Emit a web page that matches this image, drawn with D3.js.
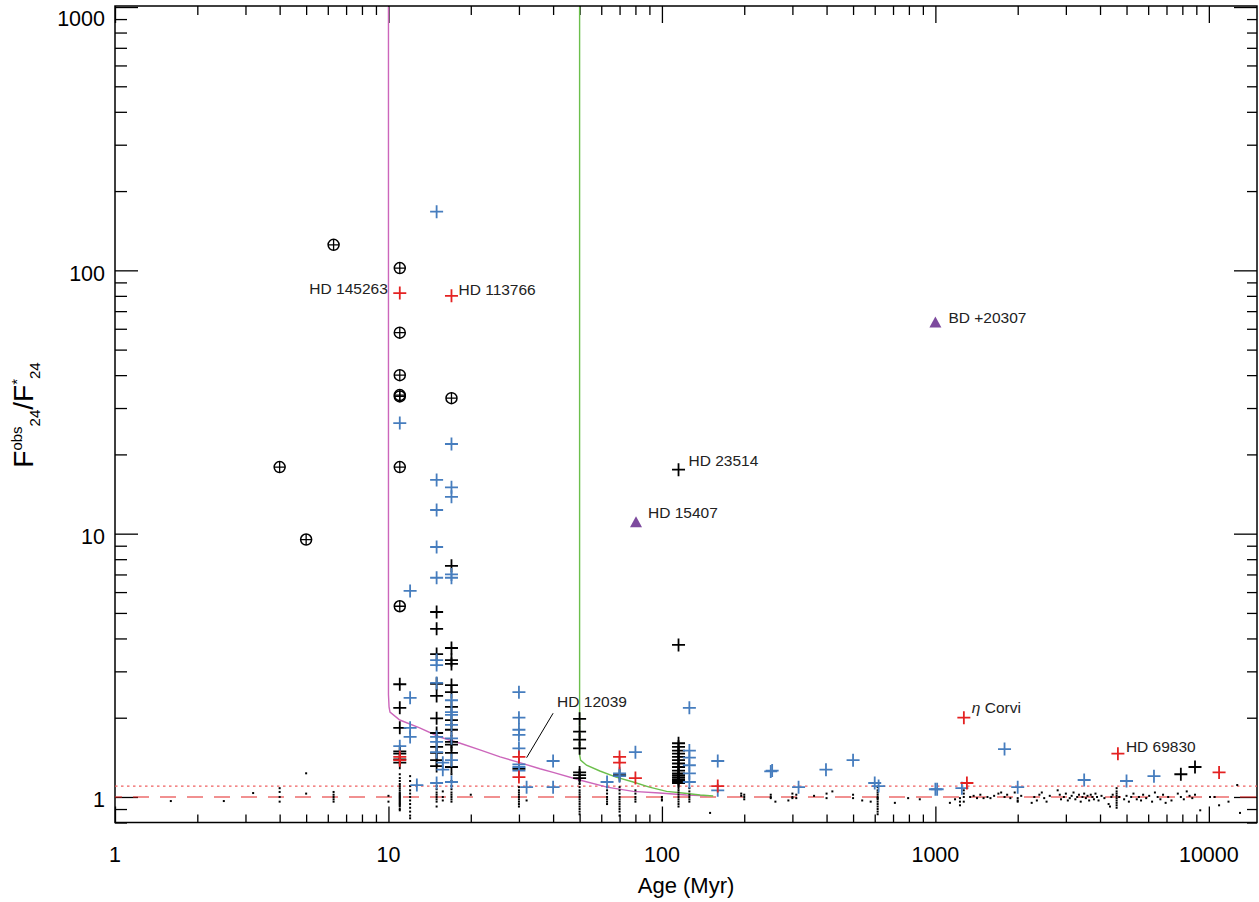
<!DOCTYPE html>
<html>
<head>
<meta charset="utf-8">
<script src="https://cdn.jsdelivr.net/npm/d3@7"></script>
<style>
  body { margin: 0; background: #fff; }
  text { font-family: "Liberation Sans", Arial, Helvetica, sans-serif; }
</style>
</head>
<body>
<script>
// ---- data: [age (Myr), F24obs/F24*] ----
var ringStars = [[6.3,125],[11,102],[11,58],[11,40],[11,33.2],[11,33.6],[11,17.9],[11,5.3],[17,32.7],[4.0,17.9],[5.0,9.5]];

var blueStars = [
  [15,167],[11,26.3],[15,16.0],[15,12.3],[15,8.9],[15,6.8],[17,21.9],[17,15.0],[17,13.8],[17,7.0],[17,6.8],
  [12,6.06],[12,2.38],[12,1.83],[12,1.69],[12.7,1.11],[11,1.56],
  [15,3.31],[15,3.17],[15,2.71],[15,1.69],[15,1.62],[15,1.48],[15,1.13],[15.8,1.35],[15.8,1.27],
  [17,2.33],[17,2.1],[17,2.05],[17,1.88],[17,1.67],[17,1.38],[17,1.14],
  [30,2.5],[30,2.0],[30,1.8],[30,1.72],[30,1.53],[30,1.33],[30,1.3],[30,1.26],[32,1.09],
  [40,1.37],[40,1.09],[63,1.14],[70,1.23],[70,1.2],[80,1.48],
  [126,2.18],[126,1.5],[126,1.41],[126,1.32],[126,1.23],[126,1.14],
  [160,1.37],[160,1.06],[250,1.25],[253,1.26],[316,1.09],[398,1.27],[500,1.38],[600,1.13],[620,1.1],
  [1000,1.07],[1015,1.07],[1250,1.08],[1790,1.52],[2000,1.09],[3500,1.16],[5000,1.15],[6300,1.2]
];

var blackStars = [
  [115,17.5],[115,3.78],
  [11,2.68],[11,2.18],[11,1.83],[11,1.49],[11,1.46],[11,1.39],[11,1.35],
  [15,5.04],[15,4.35],[15,3.49],[15,2.69],[15,2.42],[15,1.99],[15,1.75],[15,1.55],[15,1.47],[15,1.38],[15,1.31],
  [17,7.55],[17,3.68],[17,3.31],[17,3.2],[17,2.66],[17,2.5],[17,2.2],[17,1.96],[17,1.8],[17,1.62],[17,1.58],[17,1.47],[17,1.3],
  [30,1.28],
  [50,1.98],[50,1.77],[50,1.65],[50,1.53],[50,1.24],[50,1.21],[50,1.18],
  [70,1.21],
  [115,1.6],[115,1.55],[115,1.5],[115,1.46],[115,1.42],[115,1.38],[115,1.34],[115,1.3],[115,1.26],
  [115,1.23],[115,1.21],[115,1.19],[115,1.17],[115,1.15],[115,1.13],
  [7900,1.22],[8900,1.3]
];

var redStars = [[11,82],[17,80],[11,1.42],[11,1.38],[30,1.42],[30,1.19],[70,1.42],[70,1.35],[80,1.18],[160,1.1],
  [1271,2.0],[1304,1.13],[4650,1.46],[10900,1.24]];

var triStars = [[80.4,11.1],[1000,63.6]];

// columns of non-excess stars: [age, [ratios]]
var dotColumns = [
  [1.6,[0.965]],[2.5,[0.965]],[3.2,[1.035]],[4.0,[1.08,1.045,1.0,0.96]],[5.0,[1.23,1.03]],
  [6.3,[1.045,1.02,1.0,0.98,0.96]],[10,[1.01,0.96]],
  [11,[1.22,1.18,1.15,1.12,1.1,1.08,1.06,1.04,1.03,1.02,1.01,1.0,0.99,0.98,0.97,0.96,0.95,0.94,0.93,0.92,0.9,0.89]],
  [12,[1.2,1.15,1.1,1.06,1.03,1.0,0.97,0.94,0.91,0.88,0.85,0.83]],
  [15,[1.1,1.07,1.04,1.02,1.0,0.98,0.96,0.92]],[15.8,[1.05,1.0,0.97]],
  [17,[1.22,1.15,1.1,1.07,1.04,1.02,1.0,0.98,0.96]],[20,[1.02]],
  [30,[1.09,1.06,1.04,1.02,1.0,0.98,0.96,0.94,0.92]],[32,[0.97]],
  [50,[1.16,1.12,1.09,1.06,1.04,1.02,1.0,0.98,0.96,0.94,0.92,0.9,0.88,0.86]],
  [63,[1.09,1.06,1.03,1.0,0.98,0.96,0.94]],
  [70,[1.09,1.06,1.03,1.0,0.98,0.96,0.94,0.92,0.9,0.88,0.85]],
  [80,[1.06,1.03,1.0,0.98,0.96]],[100,[1.0,0.98,0.97]],
  [115,[1.06,1.04,1.02,1.0,0.98,0.96,0.94,0.92]],[126,[1.08,1.05,1.02,1.0,0.98,0.96]],
  [150,[0.87]],[195,[1.03,1.01]],[200,[1.02,1.0,0.98]],[250,[1.02,1.0,0.99]],[260,[0.96]],[290,[0.97]],
  [300,[1.03,1.0,0.99]],[310,[1.02,0.99]],[360,[1.01]],[400,[1.03,0.99]],[420,[1.05]],[500,[1.02,0.99]],
  [540,[0.97]],[580,[0.96]],
  [615,[1.09,1.06,1.04,1.02,1.0,0.99,0.98,0.96,0.94,0.92,0.9,0.88,0.86]]
];

var oldDots = [
  [711,0.95],[795,0.99],[877,0.98],[1130,0.95],[1180,0.98],[1230,0.99],[1230,0.96],[1230,0.93],[1270,1.06],[1270,1.03],
  [1270,1.0],[1270,0.96],[1340,1.0],[1380,1.01],[1420,0.99],[1460,1.02],[1500,0.99],[1550,1.0],[1590,0.99],[1640,1.01],
  [1700,1.03],[1740,1.04],[1790,1.0],[1830,1.02],[1880,0.99],[1950,1.04],[2000,0.99],[2000,0.97],[2000,0.96],[2060,1.01],
  [2250,0.95],[2300,1.0],[2350,0.97],[2400,1.02],[2450,1.04],[2500,0.99],[2550,0.96],[2620,1.01],
  [2800,1.06],[2850,1.02],[2880,0.98],[2950,1.0],[3000,1.03],[3050,0.97],[3100,0.99],[3150,1.01],[3200,1.04],[3250,0.98],
  [3300,1.0],[3350,1.02],[3400,0.96],[3450,1.0],[3500,1.03],[3550,0.99],[3600,1.01],[3650,0.97],[3700,1.02],[3750,1.0],
  [3800,0.98],[3850,1.03],[3900,1.0],[3950,0.97],[4050,1.01],[4150,0.99],
  [4300,0.94],[4350,0.92],[4400,1.0],[4450,1.02],[4600,1.08],[4600,1.05],[4600,1.03],[4600,1.01],[4600,0.99],[4600,0.97],
  [4600,0.95],[4600,0.93],[4600,0.91],[4700,1.0],
  [4900,0.98],[5000,1.01],[5100,0.96],[5200,1.0],[5300,1.03],[5450,0.98],[5550,1.0],[5650,0.97],[5750,1.02],[5900,0.99],
  [6050,1.01],[6200,0.96],[6350,1.04],[6500,1.0],[6650,0.98],[6800,1.02],[6950,0.95],[7100,1.0],[7300,0.97],
  [7700,1.03],[7900,1.0],[8100,0.98],[8300,1.05],[8500,1.01],[8700,0.99],[8900,1.02],[9300,0.89],[10100,1.0],[10500,1.0],
  [10900,0.93],[11800,0.96],[12700,1.11],[13000,0.87]
];

// model curves
var pinkCurve = [[10,1000],[10,2.45],[10.05,2.2],[10.13,2.1],[11,1.96],[13,1.83],[15.4,1.69],[18.3,1.6],[21.6,1.51],
  [25.6,1.42],[30.2,1.35],[35.8,1.28],[40,1.24],[50,1.16],[63,1.09],[78.5,1.05],[98,1.035],[123,1.018],[146,1.01]];
var greenCurve = [[50,1000],[50,1.45],[50.4,1.38],[53,1.32],[59.3,1.255],[68,1.19],[78.5,1.14],[90,1.09],[104,1.05],
  [119,1.035],[138,1.018],[154,1.009]];

var labelNames  = ["HD 145263","HD 113766","BD +20307","HD 23514","HD 15407","Corvi","HD 69830","HD 12039"];
var labelAges   = [11, 17, 1000, 115, 80.4, 1271, 4650, 40];
var labelRatios = [82, 80, 63.6, 17.5, 11.1, 2.0, 1.46, 2.08];
var leader = [[40,2.08],[32,1.41]];

var xTickLabels = [1, 10, 100, 1000, 10000];
var yTickLabels = [1, 10, 100, 1000];

// ---- drawing ----
var w = 1259, h = 902;
var svg = d3.select("body").append("svg").attr("width", w).attr("height", h);

var x = d3.scaleLog().domain([1, 15000]).range([115, 1257]);
var y = d3.scaleLog().domain([0.8, 1009]).range([822.5, 6]);

var blue = "#467dbe", red = "#e42222", purple = "#7d4a9e";

// minor tick values
var xMinor = [], yMinor = [0.8, 0.9];
[1, 10, 100, 1000, 10000].forEach(function(d) {
  for (var k = 2; k <= 9; k++) if (k * d <= 15000) xMinor.push(k * d);
});
[1, 10, 100].forEach(function(d) {
  for (var k = 2; k <= 9; k++) yMinor.push(k * d);
});

function axisG(gen, tr) {
  var g = svg.append("g").attr("transform", tr).call(gen);
  g.select(".domain").remove();
  g.selectAll("line").attr("stroke", "#000").attr("stroke-width", 1.3);
  return g;
}
axisG(d3.axisBottom(x).tickValues(xTickLabels).tickSize(-16).tickFormat(""), "translate(0,822.5)");
axisG(d3.axisBottom(x).tickValues(xMinor).tickSize(-8).tickFormat(""), "translate(0,822.5)");
axisG(d3.axisTop(x).tickValues(xTickLabels).tickSize(-17).tickFormat(""), "translate(0,6)");
axisG(d3.axisTop(x).tickValues(xMinor).tickSize(-9).tickFormat(""), "translate(0,6)");
axisG(d3.axisLeft(y).tickValues(yTickLabels).tickSize(-23).tickFormat(""), "translate(115,0)");
axisG(d3.axisLeft(y).tickValues(yMinor).tickSize(-12).tickFormat(""), "translate(115,0)");
axisG(d3.axisRight(y).tickValues(yTickLabels).tickSize(-23).tickFormat(""), "translate(1257,0)");
axisG(d3.axisRight(y).tickValues(yMinor).tickSize(-10).tickFormat(""), "translate(1257,0)");

// frame
svg.append("rect").attr("x", 115).attr("y", 6).attr("width", 1142).attr("height", 816.5)
  .attr("fill", "none").attr("stroke", "#000").attr("stroke-width", 1.5);

// tick labels
svg.selectAll(".xl").data(xTickLabels).enter().append("text")
  .attr("x", function(d) { return x(d); }).attr("y", 862)
  .attr("text-anchor", "middle").attr("font-size", 21.5).text(function(d) { return d; });
svg.selectAll(".yl").data(yTickLabels).enter().append("text")
  .attr("x", 105).attr("y", function(d) { return Math.max(y(d) + 3, 18.5) + 7.5; })
  .attr("text-anchor", "end").attr("font-size", 21.5).text(function(d) { return d; });

// axis titles
svg.append("text").attr("x", 686).attr("y", 893).attr("text-anchor", "middle")
  .attr("font-size", 22).text("Age (Myr)");
var yt = svg.append("text").attr("transform", "translate(33,415) rotate(-90)")
  .attr("text-anchor", "middle").attr("font-size", 28);
yt.append("tspan").text("F");
yt.append("tspan").attr("font-size", 15).attr("dy", -11).text("obs");
yt.append("tspan").attr("font-size", 15).attr("dy", 18).text("24");
yt.append("tspan").attr("dy", -7).text("/F");
yt.append("tspan").attr("font-size", 15).attr("dy", -11).text("*");
yt.append("tspan").attr("font-size", 15).attr("dy", 18).text("24");

// reference lines
var line = d3.line().x(function(d) { return x(d[0]); }).y(function(d) { return y(d[1]); });
svg.append("path").attr("d", line([[1, 1], [15000, 1]])).attr("stroke", red).attr("stroke-width", 1.2)
  .attr("stroke-dasharray", "16,11").attr("stroke-dashoffset", -18).attr("fill", "none");
svg.append("path").attr("d", line([[1, 1.1], [15000, 1.1]])).attr("stroke", "#f06060").attr("stroke-width", 1.2)
  .attr("stroke-dasharray", "2.5,3.5").attr("fill", "none");

// model curves
svg.append("path").attr("d", line(pinkCurve)).attr("stroke", "#cc66bb").attr("stroke-width", 1.4).attr("fill", "none");
svg.append("path").attr("d", line(greenCurve)).attr("stroke", "#6cbf4c").attr("stroke-width", 1.4).attr("fill", "none");

// non-excess dots
var dots = [];
dotColumns.forEach(function(c) { c[1].forEach(function(v) { dots.push([c[0], v]); }); });
dots = dots.concat(oldDots);
svg.selectAll(".dot").data(dots).enter().append("rect")
  .attr("x", function(d) { return x(d[0]) - 1; }).attr("y", function(d) { return y(d[1]) - 1; })
  .attr("width", 2).attr("height", 2).attr("fill", "#000");

// plus markers
function plus(data, color) {
  svg.append("g").selectAll("path").data(data).enter().append("path")
    .attr("d", function(d) {
      var px = x(d[0]), py = y(d[1]);
      return "M" + (px - 6.5) + "," + py + "H" + (px + 6.5) + "M" + px + "," + (py - 6.5) + "V" + (py + 6.5);
    })
    .attr("stroke", color).attr("stroke-width", 1.8).attr("fill", "none");
}
plus(blackStars, "#000");
plus(blueStars, blue);
plus(redStars, red);

// circled plus
var rg = svg.append("g").selectAll("g").data(ringStars).enter().append("g")
  .attr("transform", function(d) { return "translate(" + x(d[0]) + "," + y(d[1]) + ")"; });
rg.append("circle").attr("r", 5.5).attr("fill", "none").attr("stroke", "#000").attr("stroke-width", 1.5);
rg.append("path").attr("d", "M-5.5,0H5.5M0,-5.5V5.5").attr("stroke", "#000").attr("stroke-width", 1.3);

// triangles
svg.append("g").selectAll("path").data(triStars).enter().append("path")
  .attr("d", function(d) {
    var px = x(d[0]), py = y(d[1]);
    return "M" + (px - 6) + "," + (py + 5.5) + "L" + (px + 6) + "," + (py + 5.5) + "L" + px + "," + (py - 5.5) + "Z";
  })
  .attr("fill", purple);

// annotations
var labelStyle = {
  "HD 145263": [-12, 1, "end"], "HD 113766": [7, -1, "start"], "BD +20307": [13, 1, "start"],
  "HD 23514": [10, -4, "start"], "HD 15407": [12, -4, "start"], "Corvi": [8, -5, "start"],
  "HD 69830": [8, -2, "start"], "HD 12039": [4, -6, "start"]
};
labelNames.forEach(function(name, i) {
  var s = labelStyle[name];
  var t = svg.append("text").attr("x", x(labelAges[i]) + s[0]).attr("y", y(labelRatios[i]) + s[1])
    .attr("text-anchor", s[2]).attr("font-size", 15.5).attr("fill", "#222");
  if (name == "Corvi") {
    t.append("tspan").attr("font-style", "italic").text("η");
    t.append("tspan").text(" Corvi");
  } else {
    t.text(name);
  }
});
svg.append("path").attr("d", line(leader)).attr("stroke", "#000").attr("stroke-width", 1).attr("fill", "none");
</script>
</body>
</html>
